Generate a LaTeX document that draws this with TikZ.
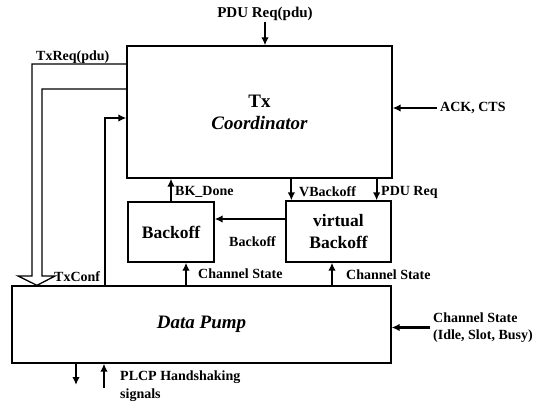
\documentclass[tikz,border=0pt]{standalone}
\usepackage{fontspec}
\setmainfont{Liberation Serif}
\usetikzlibrary{arrows.meta}
\begin{document}
\begin{tikzpicture}[x=1pt,y=-1pt,
  box/.style={draw,line width=1.3pt,inner sep=0pt},
  arr/.style={line width=2.2pt,-{Latex[length=8pt,width=7.5pt]}},
  lbl/.style={font=\fontsize{14}{17}\selectfont\bfseries,inner sep=1pt},
  blbl/.style={font=\fontsize{17.5}{22}\selectfont\bfseries,align=center},
  mlbl/.style={font=\fontsize{19}{22}\selectfont\bfseries,align=center}]
\useasboundingbox (0,0) rectangle (545,406);
% boxes
\node[box,minimum width=265pt,minimum height=132pt,mlbl] (tx) at (259.5,112) {Tx\\\textit{Coordinator}};
\node[box,minimum width=86pt,minimum height=60pt,blbl] (bk) at (171,232) {Backoff};
\node[box,minimum width=105pt,minimum height=61pt,blbl] (vbk) at (338.5,231.5) {virtual\\Backoff};
\node[box,minimum width=379pt,minimum height=77pt,mlbl] (dp) at (201.5,324.5) {\textit{Data Pump}};
% labels
\node[lbl,font=\fontsize{15}{17}\selectfont\bfseries] (pdu) at (265,14) {PDU Req(pdu)};
\node[lbl,anchor=west,inner sep=3pt] (ack) at (437,108) {ACK, CTS};
\node[lbl,anchor=west] (txreq) at (35,57) {TxReq(pdu)};
\node[lbl,anchor=west] (txconf) at (53,277) {TxConf};
\node[lbl,anchor=west] (bkdone) at (174,192) {BK\_Done};
\node[lbl,anchor=west] (vbl) at (298,192) {VBackoff};
\node[lbl,anchor=west] (pdur) at (380,192) {PDU Req};
\node[lbl,anchor=west] (bkl) at (228,242) {Backoff};
\node[lbl,anchor=west] (cs1l) at (197,274) {Channel State};
\node[lbl,anchor=west] (cs2l) at (345,275) {Channel State};
\node[lbl,anchor=west,align=left,inner sep=3pt] (csr) at (430,327.5) {Channel State\\(Idle, Slot, Busy)};
\node[lbl,anchor=west,align=left,font=\fontsize{14}{18}\selectfont\bfseries] (plcp) at (119,386) {PLCP Handshaking\\signals};
% coordinates
\coordinate (vb1) at ([xshift=6pt]vbk.north west);
\coordinate (pr1) at ([xshift=-15pt]vbk.north east);
\coordinate (ba) at (0,219);
\coordinate (cs1) at (186,0);
\coordinate (cs2) at (332,0);
\coordinate (tc) at (105,118);
\coordinate (o1) at (0,64);
\coordinate (i1) at (0,89);
\coordinate (dn) at (76,385);
\coordinate (up) at (104,388);
% connectors
\draw[arr] (pdu.south) -- (pdu.south |- tx.north);
\draw[arr] (ack.west) -- (ack.west -| tx.east);
\draw[arr] (bk.north) -- (bk.north |- tx.south);
\draw[arr] (vb1 |- tx.south) -- (vb1);
\draw[arr] (pr1 |- tx.south) -- (pr1);
\draw[arr] (vbk.west |- ba) -- (bk.east |- ba);
\draw[arr] (cs1 |- dp.north) -- (cs1 |- bk.south);
\draw[arr] (cs2 |- dp.north) -- (cs2 |- vbk.south);
\draw[arr] (csr.west) -- (csr.west -| dp.east);
\draw[arr] (tc |- dp.north) -- (tc) -- (tc -| tx.west);
\draw[arr] (dn |- dp.south) -- (dn);
\draw[arr] (up) -- (up |- dp.south);
\draw[line width=1.3pt,line join=miter] (tx.west |- o1) -- (32,64) -- (32,276) -- (18,276) -- (37,0 |- dp.north) -- (55,276) -- (42,276) -- (42,89) -- (tx.west |- i1);
\end{tikzpicture}
\end{document}
